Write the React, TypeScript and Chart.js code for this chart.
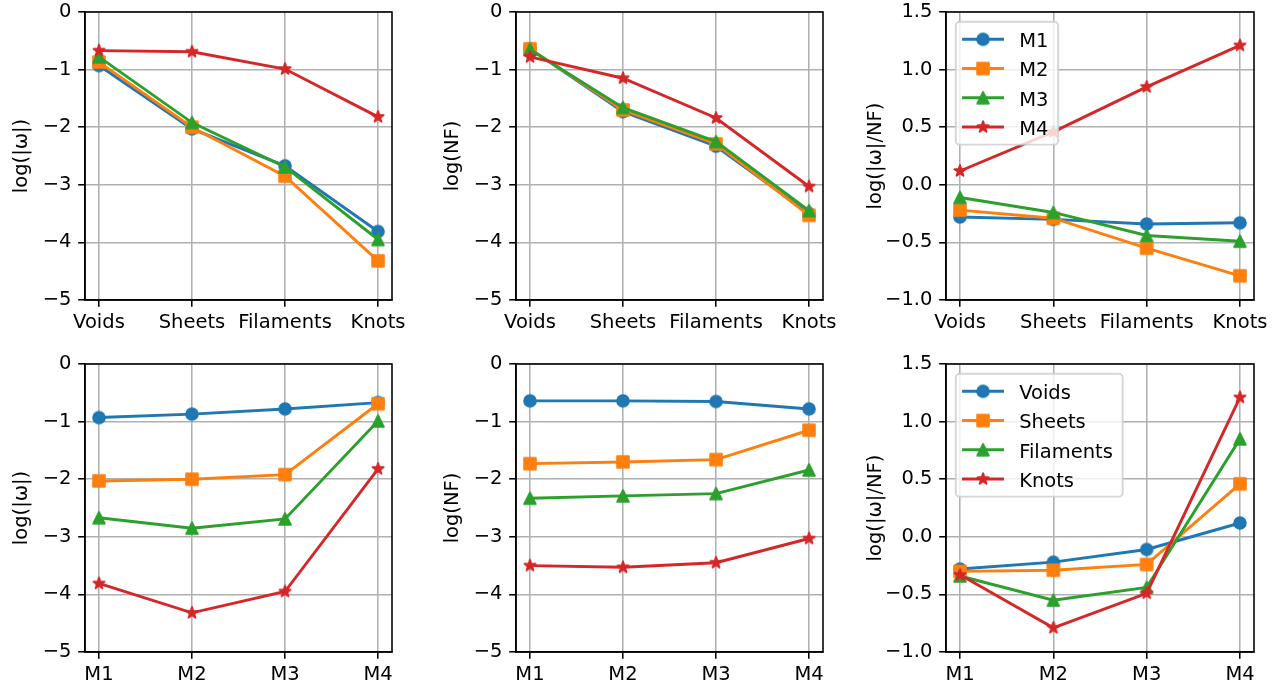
import React, { useEffect, useRef } from "react";
import { Chart, registerables } from "chart.js";

Chart.register(...registerables);

// ---------- data ----------
const environments = ["Voids", "Sheets", "Filaments", "Knots"];
const models = ["M1", "M2", "M3", "M4"];

// log(|ω|) per model, across environments
const logOmegaM1 = [-0.93, -2.03, -2.67, -3.81];
const logOmegaM2 = [-0.87, -2.00, -2.85, -4.32];
const logOmegaM3 = [-0.78, -1.92, -2.69, -3.95];
const logOmegaM4 = [-0.67, -0.69, -0.99, -1.82];

// log(NF) per model, across environments
const logNFM1 = [-0.64, -1.73, -2.33, -3.50];
const logNFM2 = [-0.64, -1.70, -2.29, -3.53];
const logNFM3 = [-0.65, -1.66, -2.25, -3.45];
const logNFM4 = [-0.78, -1.15, -1.84, -3.03];

// log(|ω|/NF) per model, across environments
const ratioM1 = [-0.28, -0.30, -0.34, -0.33];
const ratioM2 = [-0.22, -0.29, -0.55, -0.79];
const ratioM3 = [-0.11, -0.24, -0.44, -0.49];
const ratioM4 = [0.12, 0.46, 0.85, 1.21];

const omegaTicks = [0, -1, -2, -3, -4, -5];
const ratioTicks = [1.5, 1.0, 0.5, 0.0, -0.5, -1.0];

// ---------- style ----------
const PT = 140 / 72;
const FS = 19.5;
const FONT = '"DejaVu Sans", sans-serif';
const LW = 1.5 * PT;
const MS = 6 * PT;
const MEW = 1 * PT;
const THIN = 0.8 * PT;
const TICK_LEN = 3.5 * PT;
const COLORS = ["#1f77b4", "#ff7f0e", "#2ca02c", "#d62728"];
const SHAPES = ["circle", "square", "triangle", "star"];

const transpose = (m: number[][]) => m[0].map((_, j) => m.map((r) => r[j]));

const logOmega = [logOmegaM1, logOmegaM2, logOmegaM3, logOmegaM4];
const logNF = [logNFM1, logNFM2, logNFM3, logNFM4];
const ratio = [ratioM1, ratioM2, ratioM3, ratioM4];

type Panel = {
  row: number;
  col: number;
  xLabels: string[];
  names: string[];
  series: number[][];
  yTitle: string;
  yTicks: number[];
  dec: number;
  legend: boolean;
};

const PANELS: Panel[] = [
  { row: 0, col: 0, xLabels: environments, names: models, series: logOmega, yTitle: "log(|ω|)", yTicks: omegaTicks, dec: 0, legend: false },
  { row: 0, col: 1, xLabels: environments, names: models, series: logNF, yTitle: "log(NF)", yTicks: omegaTicks, dec: 0, legend: false },
  { row: 0, col: 2, xLabels: environments, names: models, series: ratio, yTitle: "log(|ω|/NF)", yTicks: ratioTicks, dec: 1, legend: true },
  { row: 1, col: 0, xLabels: models, names: environments, series: transpose(logOmega), yTitle: "log(|ω|)", yTicks: omegaTicks, dec: 0, legend: false },
  { row: 1, col: 1, xLabels: models, names: environments, series: transpose(logNF), yTitle: "log(NF)", yTicks: omegaTicks, dec: 0, legend: false },
  { row: 1, col: 2, xLabels: models, names: environments, series: transpose(ratio), yTitle: "log(|ω|/NF)", yTicks: ratioTicks, dec: 1, legend: true },
];

// geometry
const COLS = [
  { left: 0, yw: 85, pw: 307 },
  { left: 431, yw: 85, pw: 307 },
  { left: 854, yw: 92, pw: 308 },
];
const ROW_TOPS = [0, 352];
const PAD_TOP = 12;
const PAD_RIGHT = 25;
const PLOT_H = 288;
const X_AXIS_H = 36;

function makeMarker(shape: string, color: string): HTMLCanvasElement {
  const size = 22;
  const c = document.createElement("canvas");
  c.width = size;
  c.height = size;
  const ctx = c.getContext("2d")!;
  const cx = size / 2;
  const cy = size / 2;
  const r = MS / 2;
  ctx.fillStyle = color;
  ctx.strokeStyle = color;
  ctx.lineWidth = MEW;
  ctx.lineJoin = "round";
  ctx.beginPath();
  if (shape === "circle") {
    ctx.arc(cx, cy, r, 0, Math.PI * 2);
  } else if (shape === "square") {
    ctx.rect(cx - r, cy - r, 2 * r, 2 * r);
  } else if (shape === "triangle") {
    ctx.moveTo(cx, cy - r);
    ctx.lineTo(cx - r, cy + r);
    ctx.lineTo(cx + r, cy + r);
    ctx.closePath();
  } else {
    for (let k = 0; k < 10; k++) {
      const a = -Math.PI / 2 + (k * Math.PI) / 5;
      const rr = k % 2 === 0 ? r : r * 0.381966;
      const px = cx + rr * Math.cos(a);
      const py = cy + rr * Math.sin(a);
      if (k === 0) ctx.moveTo(px, py);
      else ctx.lineTo(px, py);
    }
    ctx.closePath();
  }
  ctx.fill();
  ctx.stroke();
  return c;
}

const fmt = (v: number, dec: number) => {
  const s = Math.abs(v).toFixed(dec);
  return (v < -1e-9 ? "\u2212" : "") + s;
};

const boxPlugin = {
  id: "mplBox",
  afterDatasetsDraw(chart: any) {
    const { ctx, chartArea: a } = chart;
    ctx.save();
    ctx.strokeStyle = "#000";
    ctx.lineWidth = THIN;
    ctx.strokeRect(a.left, a.top, a.right - a.left, a.bottom - a.top);
    ctx.restore();
  },
};

const legendPlugin = {
  id: "mplLegend",
  afterDatasetsDraw(chart: any, _args: any, opts: any) {
    if (!opts || !opts.show) return;
    const { ctx, chartArea: a } = chart;
    const ds = chart.data.datasets;
    ctx.save();
    ctx.font = `${FS}px ${FONT}`;
    const pad = 0.4 * FS;
    const handleLen = 2 * FS;
    const handlePad = 0.8 * FS;
    const labelSp = 0.5 * FS;
    const rowH = FS;
    const axPad = 0.5 * FS;
    const textW = Math.max(...ds.map((d: any) => ctx.measureText(d.label).width)) + 3;
    const w = pad + handleLen + handlePad + textW + pad;
    const h = 2 * pad + ds.length * rowH + (ds.length - 1) * labelSp;
    const x0 = a.left + axPad;
    const y0 = a.top + axPad;
    const rad = 0.2 * FS;
    ctx.beginPath();
    ctx.moveTo(x0 + rad, y0);
    ctx.lineTo(x0 + w - rad, y0);
    ctx.arcTo(x0 + w, y0, x0 + w, y0 + rad, rad);
    ctx.lineTo(x0 + w, y0 + h - rad);
    ctx.arcTo(x0 + w, y0 + h, x0 + w - rad, y0 + h, rad);
    ctx.lineTo(x0 + rad, y0 + h);
    ctx.arcTo(x0, y0 + h, x0, y0 + h - rad, rad);
    ctx.lineTo(x0, y0 + rad);
    ctx.arcTo(x0, y0, x0 + rad, y0, rad);
    ctx.closePath();
    ctx.fillStyle = "rgba(255,255,255,0.8)";
    ctx.fill();
    ctx.strokeStyle = "rgba(204,204,204,0.8)";
    ctx.lineWidth = 1 * PT;
    ctx.stroke();
    ds.forEach((d: any, i: number) => {
      const cy = y0 + pad + rowH / 2 + i * (rowH + labelSp);
      const lx = x0 + pad;
      ctx.strokeStyle = d.borderColor;
      ctx.lineWidth = LW;
      ctx.lineCap = "square";
      ctx.beginPath();
      ctx.moveTo(lx, cy);
      ctx.lineTo(lx + handleLen, cy);
      ctx.stroke();
      const m = d.pointStyle as HTMLCanvasElement;
      ctx.drawImage(m, lx + handleLen / 2 - m.width / 2, cy - m.height / 2);
      ctx.fillStyle = "#000";
      ctx.textBaseline = "alphabetic";
      ctx.textAlign = "left";
      ctx.fillText(d.label, lx + handleLen + handlePad + 1, cy + 0.365 * FS + 0.7);
    });
    ctx.restore();
  },
};

function buildConfig(p: Panel, markers: HTMLCanvasElement[]): any {
  const col = COLS[p.col];
  const yMin = Math.min(...p.yTicks);
  const yMax = Math.max(...p.yTicks);
  const step = Math.abs(p.yTicks[0] - p.yTicks[1]);
  const font = { family: FONT, size: FS };
  const grid = {
    color: "#b0b0b0",
    lineWidth: THIN,
    drawTicks: true,
    tickColor: "#000",
    tickLength: TICK_LEN,
    tickWidth: THIN,
  };
  const border = { display: true, color: "#000", width: THIN };
  return {
    type: "line",
    data: {
      datasets: p.names.map((name, i) => ({
        label: name,
        data: p.series[i].map((v, j) => ({ x: j, y: v })),
        borderColor: COLORS[i],
        backgroundColor: COLORS[i],
        borderWidth: LW,
        pointStyle: markers[i],
        pointRadius: MS / 2,
        pointHoverRadius: MS / 2,
        tension: 0,
        fill: false,
        order: -i,
      })),
    },
    options: {
      animation: false,
      responsive: false,
      maintainAspectRatio: false,
      events: [],
      layout: { padding: { top: PAD_TOP, right: PAD_RIGHT, bottom: 0, left: 0 } },
      plugins: {
        legend: { display: false },
        tooltip: { enabled: false },
        mplLegend: { show: p.legend },
      },
      scales: {
        x: {
          type: "linear",
          min: -0.15,
          max: 3.15,
          afterBuildTicks: (s: any) => {
            s.ticks = p.xLabels.map((_, i) => ({ value: i }));
          },
          afterFit: (s: any) => {
            s.height = X_AXIS_H;
            s.paddingLeft = 0;
            s.paddingRight = 0;
          },
          ticks: {
            callback: (v: any) => p.xLabels[Math.round(Number(v))] ?? "",
            font,
            color: "#000",
            padding: 4,
            maxRotation: 0,
            minRotation: 0,
            autoSkip: false,
          },
          grid,
          border,
        },
        y: {
          type: "linear",
          min: yMin,
          max: yMax,
          afterFit: (s: any) => {
            s.width = col.yw;
            s.paddingTop = 0;
            s.paddingBottom = 0;
          },
          ticks: {
            stepSize: step,
            callback: (v: any) => fmt(Number(v), p.dec),
            font,
            color: "#000",
            padding: TICK_LEN,
          },
          title: {
            display: true,
            text: p.yTitle,
            font,
            color: "#000",
            padding: { top: 10, bottom: 0 },
          },
          grid,
          border,
        },
      },
    },
    plugins: [boxPlugin, legendPlugin],
  };
}

export default function App() {
  const refs = useRef<(HTMLCanvasElement | null)[]>([]);
  useEffect(() => {
    Chart.defaults.font.family = FONT;
    const markers = COLORS.map((c, i) => makeMarker(SHAPES[i], c));
    const charts = PANELS.map((p, k) => new Chart(refs.current[k]!, buildConfig(p, markers)));
    return () => charts.forEach((c) => c.destroy());
  }, []);
  return (
    <div style={{ position: "absolute", left: 0, top: 0, width: 1286, height: 688, background: "#fff" }}>
      {PANELS.map((p, k) => {
        const col = COLS[p.col];
        const w = col.yw + col.pw + PAD_RIGHT;
        const h = PAD_TOP + PLOT_H + X_AXIS_H;
        return (
          <canvas
            key={k}
            ref={(el) => {
              refs.current[k] = el;
            }}
            width={w}
            height={h}
            style={{ position: "absolute", left: col.left, top: ROW_TOPS[p.row], width: w, height: h }}
          />
        );
      })}
    </div>
  );
}
